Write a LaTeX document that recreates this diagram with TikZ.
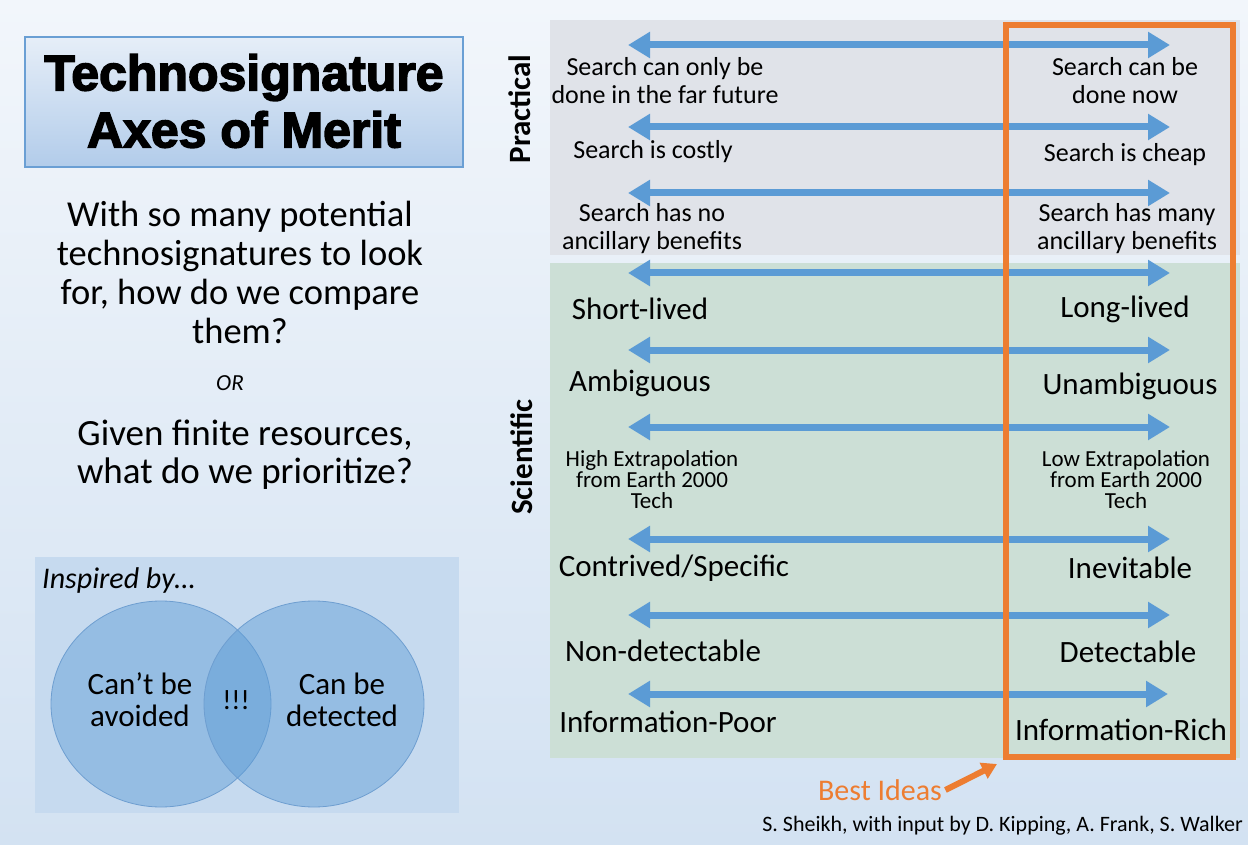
\documentclass[tikz,border=0pt]{standalone}
\usepackage{fontspec}
\setmainfont{Carlito}
\newfontfamily\titlefont{Liberation Sans}[BoldFeatures={FakeBold=3}]
\usetikzlibrary{arrows.meta}

\definecolor{arrowblue}{HTML}{5B9BD5}
\definecolor{bestorange}{HTML}{ED7D31}
\definecolor{practgray}{HTML}{E0E3E9}
\definecolor{scigreen}{HTML}{CCDFD6}
\definecolor{bgtop}{HTML}{F2F6FB}
\definecolor{bgbottom}{HTML}{D3E2F2}
\definecolor{titletop}{HTML}{E6EEF8}
\definecolor{titlebottom}{HTML}{B2CCEA}
\definecolor{titleedge}{HTML}{6A9FD4}
\definecolor{inspirefill}{HTML}{C6DAEF}
\definecolor{vennedge}{HTML}{6E9ED0}

\tikzset{
  axisarrow/.style={draw=arrowblue, line width=7pt,
    {Triangle[width=25pt,length=22pt]}-{Triangle[width=25pt,length=22pt]}},
  practlabel/.style={align=center, inner sep=0pt, font=\fontsize{26}{28}\selectfont},
  scilabel/.style={align=center, inner sep=0pt, font=\fontsize{31}{32}\selectfont},
  extralabel/.style={align=center, inner sep=0pt, font=\fontsize{23}{21}\selectfont},
  sidetitle/.style={rotate=90, inner sep=0pt, font=\fontsize{31}{32}\selectfont\bfseries},
  venn/.style={fill=arrowblue, fill opacity=0.45, draw=vennedge, line width=0.8pt},
}

\begin{document}
\begin{tikzpicture}[x=1pt,y=-1pt]
  \useasboundingbox (0,0) rectangle (1248,845);
  \shade[top color=bgtop, bottom color=bgbottom] (0,0) rectangle (1248,845);

  % left column
  \shade[top color=titletop, bottom color=titlebottom] (25,37) rectangle (463,167);
  \draw[titleedge, line width=2.5pt] (25,37) rectangle (463,167);
  \node[align=center, font=\fontsize{50}{57}\selectfont\titlefont\bfseries] (title)
    at (244,101) {Technosignature\\Axes of Merit};
  \node[align=center, font=\fontsize{36.5}{39}\selectfont] (question)
    at (240,272) {With so many potential\\technosignatures to look\\for, how do we compare\\them?};
  \node[font=\fontsize{23}{25}\selectfont\itshape] (or) at (230,383) {OR};
  \node[align=center, font=\fontsize{37}{38}\selectfont] (given)
    at (245,455) {Given finite resources,\\what do we prioritize?};

  \fill[inspirefill] (35,557) rectangle (459,813);
  \node[anchor=west, inner sep=0pt, font=\fontsize{30}{32}\selectfont\itshape] (inspired)
    at (42,580) {Inspired by…};
  \draw[venn] (161,704) ellipse (110 and 103);
  \draw[venn] (314,704) ellipse (110 and 103);
  \node[align=center, font=\fontsize{31}{32}\selectfont] (avoided) at (140,700) {Can’t be\\avoided};
  \node[font=\fontsize{28}{30}\selectfont] (bang) at (236,700) {!!!};
  \node[align=center, font=\fontsize{31}{32}\selectfont] (detected) at (342,700) {Can be\\detected};

  % right column
  \fill[practgray] (550,20) rectangle (1240,255);
  \fill[scigreen] (550,263) rectangle (1240,758);
  \node[sidetitle] (practical) at (520,109) {Practical};
  \node[sidetitle] (scientific) at (522,457) {Scientific};

  \coordinate (l1) at (628,45);  \coordinate (r1) at (1170,45);
  \coordinate (l2) at (628,127); \coordinate (r2) at (1170,127);
  \coordinate (l3) at (628,193); \coordinate (r3) at (1170,193);
  \coordinate (l4) at (628,273); \coordinate (r4) at (1170,273);
  \coordinate (l5) at (628,350); \coordinate (r5) at (1170,350);
  \coordinate (l6) at (628,427); \coordinate (r6) at (1170,427);
  \coordinate (l7) at (628,539); \coordinate (r7) at (1170,539);
  \coordinate (l8) at (628,615); \coordinate (r8) at (1170,615);
  \coordinate (l9) at (628,694); \coordinate (r9) at (1168,694);
  \begin{scope}[axisarrow]
    \draw (l1) to (r1);
    \draw (l2) to (r2);
    \draw (l3) to (r3);
    \draw (l4) to (r4);
    \draw (l5) to (r5);
    \draw (l6) to (r6);
    \draw (l7) to (r7);
    \draw (l8) to (r8);
    \draw (l9) to (r9);
  \end{scope}

  \node[practlabel] (future) at (665,81) {Search can only be\\done in the far future};
  \node[practlabel] (now) at (1125,81) {Search can be\\done now};
  \node[practlabel] (costly) at (653,152) {Search is costly};
  \node[practlabel] (cheap) at (1125,155) {Search is cheap};
  \node[practlabel] (nobenefit) at (652,229) {Search has no\\ancillary benefits};
  \node[practlabel] (benefit) at (1127,229) {Search has many\\ancillary benefits};

  \node[scilabel] (short) at (640,309) {Short-lived};
  \node[scilabel] (long) at (1125,309) {Long-lived};
  \node[scilabel] (ambig) at (640,383) {Ambiguous};
  \node[scilabel] (unambig) at (1130,386) {Unambiguous};
  \node[extralabel] (highextra) at (652,480) {High Extrapolation\\from Earth 2000\\Tech};
  \node[extralabel] (lowextra) at (1126,480) {Low Extrapolation\\from Earth 2000\\Tech};
  \node[scilabel] (contrived) at (674,568) {Contrived/Specific};
  \node[scilabel] (inevitable) at (1130,568) {Inevitable};
  \node[scilabel] (nondetect) at (663,651) {Non-detectable};
  \node[scilabel] (detect) at (1128,652) {Detectable};
  \node[scilabel] (poor) at (668,722) {Information-Poor};
  \node[scilabel] (rich) at (1121,730) {Information-Rich};

  \draw[bestorange, line width=6pt] (1006,25) rectangle (1233,757);

  \node[text=bestorange, font=\fontsize{30}{31}\selectfont] (best) at (880,790) {Best Ideas};
  \coordinate (besttip) at (997,764);
  \draw[bestorange, line width=6pt, -{Triangle[width=17pt,length=15pt]}] (best.east) to (besttip);
  \node[anchor=east, inner sep=0pt, font=\fontsize{22}{24}\selectfont] (credit)
    at (1243,826) {S. Sheikh, with input by D. Kipping, A. Frank, S. Walker};
\end{tikzpicture}
\end{document}
